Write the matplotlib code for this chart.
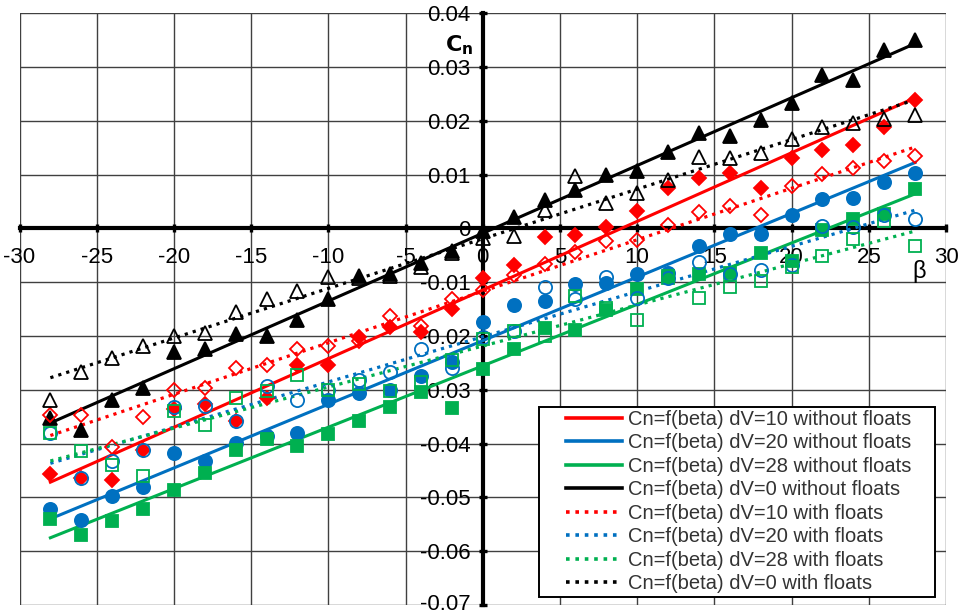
import matplotlib

matplotlib.use("Agg")
import matplotlib.pyplot as plt  # noqa: E402
import matplotlib.transforms as mtransforms  # noqa: E402
import numpy as np  # noqa: E402
from matplotlib.patches import Rectangle  # noqa: E402

plt.rcParams["font.family"] = ["Liberation Sans", "DejaVu Sans"]

beta = [-28, -26, -24, -22, -20, -18, -16, -14, -12, -10, -8, -6, -4, -2, 0,
        2, 4, 6, 8, 10, 12, 14, 16, 18, 20, 22, 24, 26, 28]

# dV=0
cn_dv0_without = [-0.0352, -0.0374, -0.0318, -0.0296, -0.0230, -0.0225, -0.0197, -0.0199,
                  -0.0170, -0.0132, -0.0089, -0.0084, -0.0064, -0.0042, -0.0004, 0.0022,
                  0.0052, 0.0071, 0.0100, 0.0106, 0.0143, 0.0177, 0.0171, 0.0201,
                  0.0233, 0.0285, 0.0276, 0.0331, 0.0350]
cn_dv0_with = [-0.0319, -0.0267, -0.0241, -0.0218, -0.0200, -0.0194, -0.0156, -0.0131,
               -0.0117, -0.0090, -0.0092, -0.0089, -0.0071, -0.0046, -0.0018, -0.0014,
               0.0035, 0.0098, 0.0048, 0.0066, 0.0090, 0.0133, 0.0131, 0.0141,
               0.0166, 0.0189, 0.0196, 0.0203, 0.0211]
# dV=10
cn_dv10_without = [-0.0456, -0.0464, -0.0467, -0.0412, -0.0335, -0.0327, -0.0358, -0.0316,
                   -0.0253, -0.0254, -0.0201, -0.0184, -0.0193, -0.0150, -0.0093, -0.0067,
                   -0.0016, -0.0012, 0.0003, 0.0032, 0.0075, 0.0094, 0.0103, 0.0075,
                   0.0131, 0.0145, 0.0155, 0.0188, 0.0239]
cn_dv10_with = [-0.0346, -0.0346, -0.0406, -0.0350, -0.0300, -0.0296, -0.0260, -0.0254,
                -0.0225, -0.0219, -0.0210, -0.0163, -0.0181, -0.0132, -0.0114, -0.0086,
                -0.0066, -0.0043, -0.0024, -0.0021, 0.0007, 0.0030, 0.0041, 0.0025,
                0.0079, 0.0102, 0.0112, 0.0126, 0.0134]
# dV=20
cn_dv20_without = [-0.0522, -0.0542, -0.0498, -0.0480, -0.0418, -0.0432, -0.0398, -0.0386,
                   -0.0381, -0.0318, -0.0306, -0.0300, -0.0275, -0.0248, -0.0173, -0.0142,
                   -0.0134, -0.0103, -0.0101, -0.0084, -0.0083, -0.0032, -0.0010, -0.0010,
                   0.0025, 0.0055, 0.0056, 0.0087, 0.0103]
cn_dv20_with = [-0.0381, -0.0464, -0.0432, -0.0412, -0.0332, -0.0330, -0.0358, -0.0292,
                -0.0319, -0.0300, -0.0281, -0.0267, -0.0224, -0.0259, -0.0201, -0.0191,
                -0.0109, -0.0132, -0.0090, -0.0129, -0.0092, -0.0063, -0.0084, -0.0077,
                -0.0068, 0.0004, 0.0003, 0.0025, 0.0017]
# dV=28
cn_dv28_without = [-0.0540, -0.0569, -0.0544, -0.0522, -0.0487, -0.0454, -0.0411, -0.0392,
                   -0.0405, -0.0383, -0.0358, -0.0331, -0.0304, -0.0334, -0.0261, -0.0225,
                   -0.0185, -0.0188, -0.0151, -0.0113, -0.0092, -0.0084, -0.0082, -0.0045,
                   -0.0060, -0.0002, 0.0017, 0.0027, 0.0073]
cn_dv28_with = [-0.0381, -0.0414, -0.0439, -0.0461, -0.0339, -0.0365, -0.0316, -0.0302,
                -0.0272, -0.0300, -0.0290, -0.0303, -0.0285, -0.0244, -0.0205, -0.0191,
                -0.0200, -0.0126, -0.0148, -0.0170, -0.0089, -0.0129, -0.0108, -0.0098,
                -0.0071, -0.0051, -0.0020, 0.0013, -0.0033]

RED, BLUE, GREEN, BLACK = "#FF0000", "#0070C0", "#00B050", "#000000"

# (values, colour, marker, filled, label)
series = [
    (cn_dv10_without, RED, "D", True, "Cn=f(beta) dV=10 without floats"),
    (cn_dv20_without, BLUE, "o", True, "Cn=f(beta) dV=20 without floats"),
    (cn_dv28_without, GREEN, "s", True, "Cn=f(beta) dV=28 without floats"),
    (cn_dv0_without, BLACK, "^", True, "Cn=f(beta) dV=0 without floats"),
    (cn_dv10_with, RED, "D", False, "Cn=f(beta) dV=10 with floats"),
    (cn_dv20_with, BLUE, "o", False, "Cn=f(beta) dV=20 with floats"),
    (cn_dv28_with, GREEN, "s", False, "Cn=f(beta) dV=28 with floats"),
    (cn_dv0_with, BLACK, "^", False, "Cn=f(beta) dV=0 with floats"),
]
msize = {"D": 7.5, "o": 9.5, "s": 8.5, "^": 10}

fig = plt.figure(figsize=(9.64, 6.14), dpi=100)
ax = fig.add_axes([19.5 / 964, 1 - 605 / 614, 926.5 / 964, 591.7 / 614])

x = np.array(beta)
handles = []
for vals, col, mk, filled, lab in series:
    y = np.array(vals)
    ax.plot(x, y, linestyle="none", marker=mk, ms=msize[mk],
            mfc=col if filled else "none", mec=col, mew=1.3, zorder=4, clip_on=False)
    # linear trend line, as in the source spreadsheet
    k, b = np.polyfit(x, y, 1)
    xs = np.array([x.min(), x.max()])
    ls = "-" if filled else (0, (1, 1.6))
    (ln,) = ax.plot(xs, k * xs + b, color=col, lw=2.2 if filled else 2.3,
                    linestyle=ls, zorder=3, label=lab)
    handles.append(ln)

ax.set_xlim(-30, 30)
ax.set_ylim(-0.07, 0.04)
ax.set_xticks(np.arange(-30, 31, 5))
ax.set_yticks(np.arange(-0.07, 0.0401, 0.01))
ax.set_xticklabels([f"{v:d}" for v in range(-30, 31, 5)])
ax.set_yticklabels(["-0.07", "-0.06", "-0.05", "-0.04", "-0.03", "-0.02", "-0.01",
                    "0", "0.01", "0.02", "0.03", "0.04"])
ax.grid(True, color="#404040", lw=1.0, zorder=0)
ax.set_axisbelow(True)

for side in ("top", "right"):
    ax.spines[side].set_visible(False)
ax.spines["left"].set_position("zero")
ax.spines["bottom"].set_position("zero")
for side in ("left", "bottom"):
    ax.spines[side].set_linewidth(3.0)
    ax.spines[side].set_zorder(2.5)
ax.tick_params(axis="both", direction="inout", length=6, width=2.4,
               labelsize=16, colors="black")
ax.tick_params(axis="x", pad=10)
ax.tick_params(axis="y", pad=6)

# lift the lowest y label a little so it stays inside the picture
low = ax.yaxis.get_major_ticks()[0].label1
low.set_transform(low.get_transform()
                  + mtransforms.ScaledTranslation(0, 3 / 100, fig.dpi_scale_trans))

ax.text(-1.5, 0.0341, r"$\mathbf{C_n}$", fontsize=16, ha="center", va="center")
ax.text(28.27, -0.0080, "β", fontsize=17, ha="center", va="center")

# legend box
fig.patches.append(Rectangle((539.3 / 964, 1 - 596.7 / 614), 395.7 / 964, 190 / 614,
                             transform=fig.transFigure, facecolor="white",
                             edgecolor="black", lw=1.4, zorder=5))
leg = fig.legend(handles=handles, loc="upper left",
                 bbox_to_anchor=(566 / 964, 1 - 410 / 614), frameon=False,
                 borderpad=0, borderaxespad=0, handlelength=2.8, handletextpad=0.3,
                 labelspacing=0.22, prop={"family": "Liberation Sans", "size": 14.5})
leg.set_zorder(6)
for t in leg.get_texts():
    t.set_color("#333333")
for ln in leg.get_lines():
    ln.set_linewidth(2.6)

fig.savefig("out.png", dpi=100)
